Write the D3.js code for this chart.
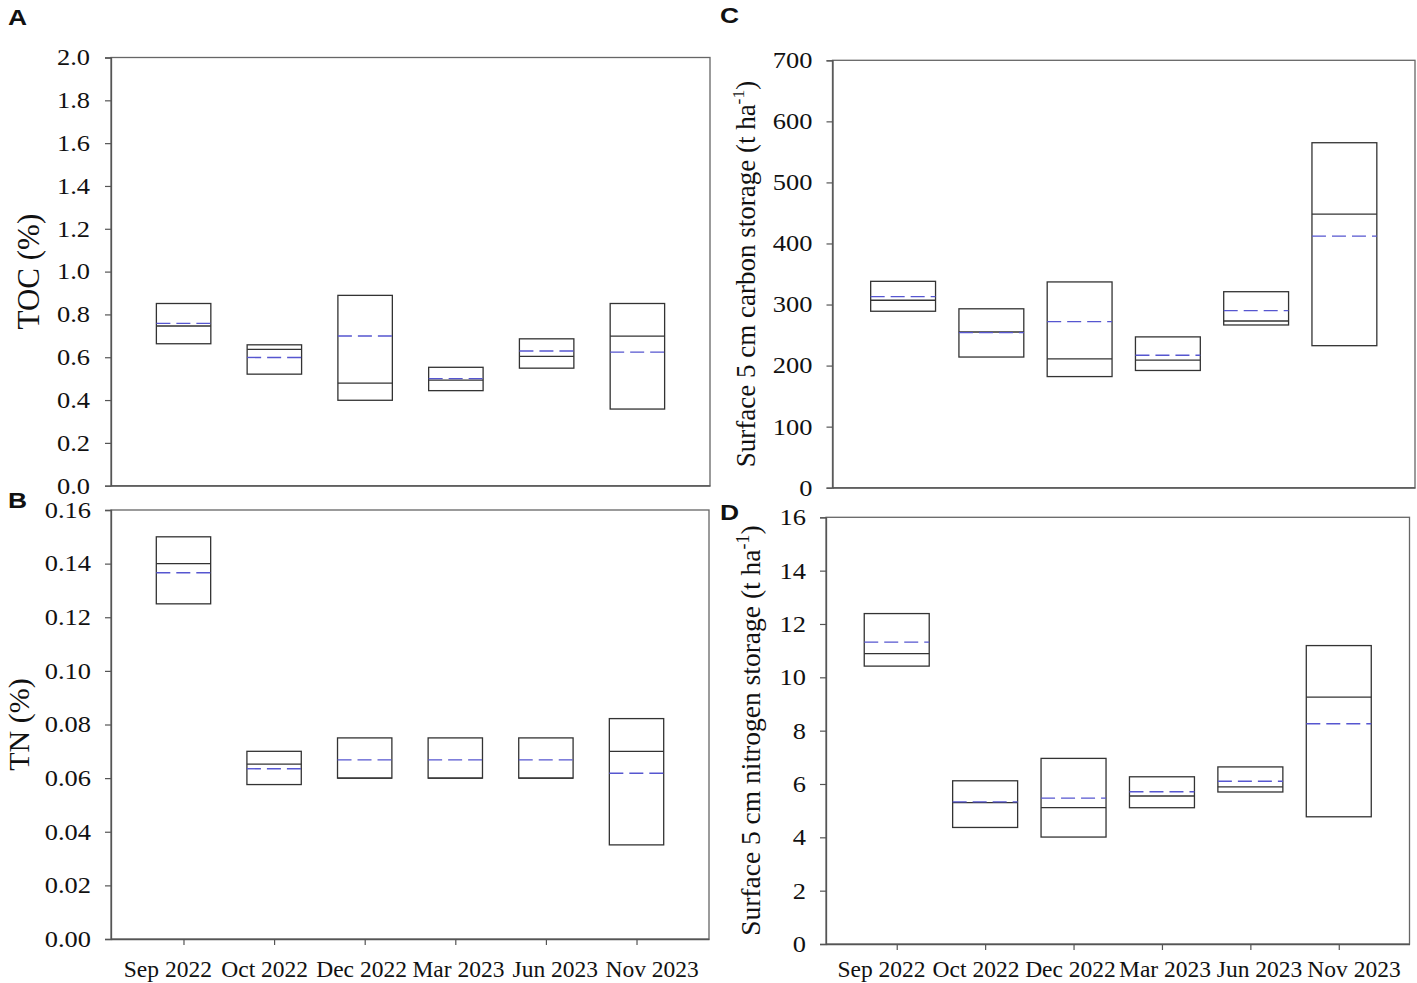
<!DOCTYPE html>
<html>
<head>
<meta charset="utf-8">
<script src="https://cdn.jsdelivr.net/npm/d3@7"></script>
<style>
  body { margin: 0; background: #fff; }
  text { font-family: "Liberation Serif", "Times New Roman", serif; fill: #111; }
  .panel-letter { font-family: "Liberation Sans", Arial, sans-serif; font-weight: bold; }
</style>
</head>
<body>
<svg id="chart" width="1417" height="983"></svg>
<script>

const months = ["Sep 2022", "Oct 2022", "Dec 2022", "Mar 2023", "Jun 2023", "Nov 2023"];

// A - TOC (%)
const tocP75 = [0.851, 0.658, 0.889, 0.553, 0.686, 0.851];
const tocP25 = [0.663, 0.521, 0.399, 0.444, 0.549, 0.358];
const tocMedian = [0.746, 0.637, 0.479, 0.493, 0.604, 0.699];
const tocMean = [0.758, 0.599, 0.699, 0.500, 0.629, 0.624];
const tocTicks = [0, 0.2, 0.4, 0.6, 0.8, 1.0, 1.2, 1.4, 1.6, 1.8, 2.0];

// B - TN (%)
const tnP75 = [0.150, 0.070, 0.075, 0.075, 0.075, 0.0822];
const tnP25 = [0.125, 0.0576, 0.060, 0.060, 0.060, 0.0351];
const tnMedian = [0.140, 0.0652, 0.060, 0.060, 0.060, 0.070];
const tnMean = [0.1366, 0.0635, 0.0668, 0.0668, 0.0668, 0.0618];
const tnTicks = [0, 0.02, 0.04, 0.06, 0.08, 0.10, 0.12, 0.14, 0.16];

// C - carbon storage (t ha-1)
const carbonP75 = [338, 293, 337, 247, 321, 565];
const carbonP25 = [289, 214, 182, 192, 266.5, 232.6];
const carbonMedian = [307, 255, 211, 209, 273, 448];
const carbonMean = [313, 254, 272, 217, 290, 412];
const carbonTicks = [0, 100, 200, 300, 400, 500, 600, 700];

// D - nitrogen storage (t ha-1)
const nitrogenP75 = [12.39, 6.12, 6.96, 6.27, 6.64, 11.19];
const nitrogenP25 = [10.42, 4.37, 4.01, 5.11, 5.70, 4.77];
const nitrogenMedian = [10.89, 5.30, 5.11, 5.55, 5.89, 9.26];
const nitrogenMean = [11.32, 5.33, 5.47, 5.71, 6.10, 8.26];
const nitrogenTicks = [0, 2, 4, 6, 8, 10, 12, 14, 16];

const svg = d3.select("#chart");

// text in the original is a bit wider than plain Times
const stretch = 1.15;

function buildPanel(opt) {
    const { box, p75, p25, median, mean, ticks, fmt } = opt;

    const data = months.map((m, i) => ({
        month: m, p75: p75[i], p25: p25[i], median: median[i], mean: mean[i]
    }));

    const xScale = d3.scalePoint()
        .domain(months)
        .range([box.left, box.right])
        .padding(0.8);

    const yScale = d3.scaleLinear()
        .domain([ticks[0], ticks[ticks.length - 1]])
        .range([box.bottom, box.top]);

    const g = svg.append("g");

    // frame (top + right border)
    g.append("rect")
        .attr("x", box.left)
        .attr("y", box.top)
        .attr("width", box.right - box.left)
        .attr("height", box.bottom - box.top)
        .attr("fill", "none")
        .attr("stroke", "#666")
        .attr("stroke-width", 1.3);

    // y axis
    const yAxis = g.append("g")
        .attr("transform", `translate(${box.left},0)`)
        .call(d3.axisLeft(yScale).tickValues(ticks).tickFormat(d3.format(fmt))
            .tickSize(6).tickPadding(opt.tickPad));
    yAxis.select(".domain").attr("stroke", "#555").attr("stroke-width", 1.3);
    yAxis.selectAll(".tick line").attr("stroke", "#555").attr("stroke-width", 1.2);
    yAxis.selectAll(".tick text")
        .style("font-family", "Liberation Serif")
        .style("font-size", "23px")
        .attr("fill", "#111")
        .each(function() {
            const x = +this.getAttribute("x");
            this.setAttribute("x", x / stretch);
            this.setAttribute("transform", `scale(${stretch},1)`);
        });

    // x axis (ticks only)
    const xAxis = g.append("g")
        .attr("transform", `translate(0,${box.bottom})`)
        .call(d3.axisBottom(xScale).tickSizeOuter(0)
            .tickSizeInner(opt.xLabels ? 6 : 0)
            .tickFormat(""));
    xAxis.select(".domain").attr("stroke", "#555").attr("stroke-width", 1.3);
    xAxis.selectAll(".tick line").attr("stroke", "#555").attr("stroke-width", 1.2);

    // month labels sit a little wider apart than the ticks
    if (opt.xLabels) {
        const mid = (box.left + box.right) / 2;
        const half = (box.right - box.left) / 2 * 1.069;
        const labelScale = d3.scalePoint()
            .domain(months)
            .range([mid - half, mid + half])
            .padding(0.8);
        g.selectAll(".month-label")
            .data(months)
            .enter()
            .append("text")
            .attr("class", "month-label")
            .attr("x", d => labelScale(d))
            .attr("y", box.bottom + opt.xLabelPad)
            .attr("text-anchor", "middle")
            .style("font-size", "23.5px")
            .text(d => d);
    }

    const bw = xScale.step() * opt.boxFrac;

    const boxes = g.selectAll(".box")
        .data(data)
        .enter()
        .append("g")
        .attr("class", "box");

    boxes.append("rect")
        .attr("x", d => xScale(d.month) - bw / 2)
        .attr("y", d => yScale(d.p75))
        .attr("width", bw)
        .attr("height", d => yScale(d.p25) - yScale(d.p75))
        .attr("fill", "none")
        .attr("stroke", "#333")
        .attr("stroke-width", 1.3);

    // median - solid
    boxes.append("line")
        .attr("x1", d => xScale(d.month) - bw / 2)
        .attr("x2", d => xScale(d.month) + bw / 2)
        .attr("y1", d => yScale(d.median))
        .attr("y2", d => yScale(d.median))
        .attr("stroke", "#333")
        .attr("stroke-width", 1.3);

    // mean - dashed blue
    boxes.append("line")
        .attr("x1", d => xScale(d.month) - bw / 2)
        .attr("x2", d => xScale(d.month) + bw / 2)
        .attr("y1", d => yScale(d.mean))
        .attr("y2", d => yScale(d.mean))
        .attr("stroke", "#5656d0")
        .attr("stroke-width", 1.4)
        .attr("stroke-dasharray", "14,6");

    // y title
    const title = g.append("text")
        .attr("transform", `translate(${opt.titleX},${(box.top + box.bottom) / 2}) rotate(-90)`)
        .attr("text-anchor", "middle")
        .style("font-size", opt.titleSize + "px");
    title.append("tspan").text(opt.title);
    if (opt.sup) {
        title.append("tspan")
            .attr("dy", -opt.titleSize * 0.4)
            .style("font-size", (opt.titleSize * 0.65) + "px")
            .text(opt.sup);
        title.append("tspan")
            .attr("dy", opt.titleSize * 0.4)
            .text(")");
    }

    // panel letter
    g.append("text")
        .attr("class", "panel-letter")
        .attr("transform", `translate(${opt.letterX},${opt.letterY}) scale(1.2,1)`)
        .style("font-size", "22px")
        .text(opt.letter);
}

buildPanel({
    box: { left: 111, right: 710, top: 57.5, bottom: 485.7 },
    p75: tocP75, p25: tocP25, median: tocMedian, mean: tocMean,
    ticks: tocTicks, fmt: ".1f", tickPad: 15, boxFrac: 0.6,
    xLabels: false, xLabelPad: 0,
    title: "TOC (%)", titleX: 39, titleSize: 31,
    letter: "A", letterX: 8, letterY: 25
});

buildPanel({
    box: { left: 111, right: 709, top: 510, bottom: 939 },
    p75: tnP75, p25: tnP25, median: tnMedian, mean: tnMean,
    ticks: tnTicks, fmt: ".2f", tickPad: 14, boxFrac: 0.6,
    xLabels: true, xLabelPad: 38,
    title: "TN (%)", titleX: 29, titleSize: 30,
    letter: "B", letterX: 8, letterY: 508
});

buildPanel({
    box: { left: 832.5, right: 1415, top: 60.3, bottom: 487.7 },
    p75: carbonP75, p25: carbonP25, median: carbonMedian, mean: carbonMean,
    ticks: carbonTicks, fmt: "d", tickPad: 14, boxFrac: 0.735,
    xLabels: false, xLabelPad: 0,
    title: "Surface 5 cm carbon storage (t ha", sup: "-1", titleX: 755, titleSize: 27,
    letter: "C", letterX: 720, letterY: 23
});

buildPanel({
    box: { left: 826, right: 1409.5, top: 517.3, bottom: 944 },
    p75: nitrogenP75, p25: nitrogenP25, median: nitrogenMedian, mean: nitrogenMean,
    ticks: nitrogenTicks, fmt: "d", tickPad: 14, boxFrac: 0.735,
    xLabels: true, xLabelPad: 33,
    title: "Surface 5 cm nitrogen storage (t ha", sup: "-1", titleX: 760, titleSize: 27.5,
    letter: "D", letterX: 720, letterY: 520
});

</script>
</body>
</html>
